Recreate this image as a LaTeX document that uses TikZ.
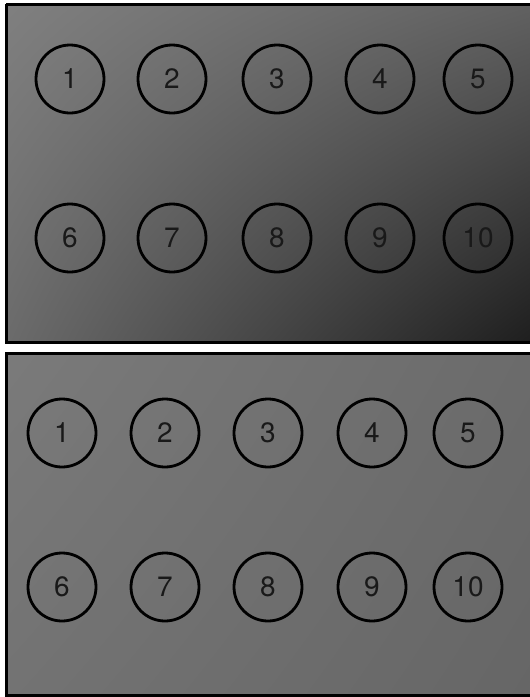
\documentclass[tikz,border=0pt]{standalone}
\usepackage{fontspec}
\usetikzlibrary{shadings}
\setmainfont{TeX Gyre Heros}
\begin{document}
\begin{tikzpicture}[x=1pt,y=-1pt,
  num/.style={draw=black,line width=2.8pt,circle,minimum size=68pt,inner sep=0pt,font=\fontsize{28}{28}\selectfont,text=black!90},
  panel/.style={draw=black,line width=3pt}]
\useasboundingbox (0,0) rectangle (530,697);
\fill[white] (0,0) rectangle (530,697);
% top panel
\shade[upper left=black!50,upper right=black!62,lower left=black!58,lower right=black!88] (6,4) rectangle (531,342);
\draw[panel] (6,4) -- (6,342) -- (531,342);
\draw[panel] (6,4) -- (531,4);
% bottom panel
\shade[upper left=black!52,upper right=black!58,lower left=black!55,lower right=black!60] (6,353) rectangle (531,695);
\draw[panel] (531,353) -- (6,353) -- (6,695) -- (531,695);
% top circles
\foreach \x/\n in {70/1,172/2,277/3,380/4,478/5}
  \node[num] (t\n) at (\x,79) {\n};
\foreach \x/\n in {70/6,172/7,277/8,380/9,478/10}
  \node[num] (t\n) at (\x,238) {\n};
% bottom circles
\foreach \x/\n in {62/1,165/2,268/3,372/4,468/5}
  \node[num] (b\n) at (\x,433) {\n};
\foreach \x/\n in {62/6,165/7,268/8,372/9,468/10}
  \node[num] (b\n) at (\x,587) {\n};
\end{tikzpicture}
\end{document}
